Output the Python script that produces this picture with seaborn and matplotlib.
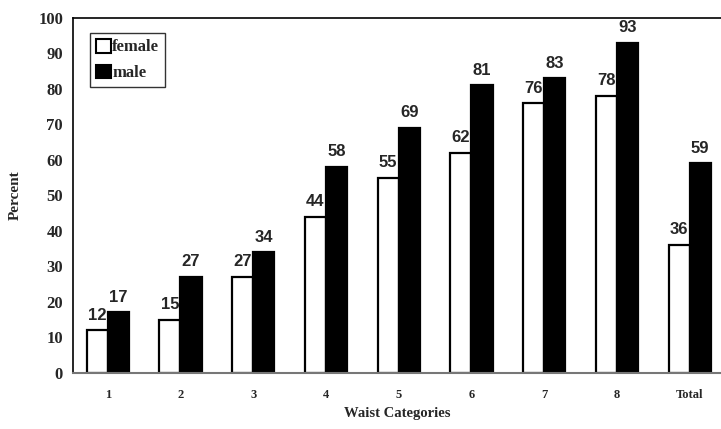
import matplotlib
matplotlib.use("Agg")
import matplotlib.pyplot as plt
import seaborn as sns
import pandas as pd
from matplotlib.patches import Patch

categories = ["1", "2", "3", "4", "5", "6", "7", "8", "Total"]
female = [12, 15, 27, 44, 55, 62, 76, 78, 36]
male = [17, 27, 34, 58, 69, 81, 83, 93, 59]
series = ["female", "male"]
yticks = [0, 10, 20, 30, 40, 50, 60, 70, 80, 90, 100]

df = pd.DataFrame({
    "cat": categories * 2,
    "val": female + male,
    "sex": ["female"] * len(categories) + ["male"] * len(categories),
})

sns.set_style("white")
fig = plt.figure(figsize=(7.21, 4.29), dpi=100)
ax = fig.add_axes([0.101, 0.131, 0.899, 0.827])

sns.barplot(data=df, x="cat", y="val", hue="sex", order=categories,
            hue_order=series, palette=["white", "black"], edgecolor="black",
            linewidth=1.6, width=0.58, ax=ax, legend=False, errorbar=None,
            saturation=1)

for cont in ax.containers:
    ax.bar_label(cont, fmt="%d", padding=5.5, fontsize=12, fontweight="bold",
                 family="Liberation Sans")

ax.set_ylim(0, 100)
ax.set_xlim(-0.48, 8.43)
ax.set_yticks(yticks)
ax.set_yticklabels([str(v) for v in yticks], family="Liberation Serif",
                   fontweight="bold", fontsize=12)
ax.set_xticks(range(len(categories)))
ax.set_xticklabels(categories, family="Liberation Serif", fontweight="bold",
                   fontsize=9)
ax.tick_params(axis="y", length=0, pad=7)
ax.tick_params(axis="x", length=0, pad=12)

ax.set_xlabel("Waist Categories", family="Liberation Serif", fontweight="bold",
              fontsize=10.5, labelpad=4)
ax.set_ylabel("Percent", family="Liberation Serif", fontweight="bold",
              fontsize=11, labelpad=12)

for s in ["left", "top"]:
    ax.spines[s].set_visible(True)
    ax.spines[s].set_color("black")
    ax.spines[s].set_linewidth(1.2)
ax.spines["right"].set_visible(False)
ax.spines["bottom"].set_color("#777777")
ax.spines["bottom"].set_linewidth(1.5)

handles = [Patch(facecolor="white", edgecolor="black", linewidth=1.5),
           Patch(facecolor="black", edgecolor="black", linewidth=1.5)]
leg = ax.legend(handles, series, loc="upper left", bbox_to_anchor=(0.026, 0.958),
                borderaxespad=0, frameon=True, fancybox=False,
                handlelength=0.9, handleheight=0.9,
                handletextpad=0.1, borderpad=0.35, labelspacing=0.55,
                prop={"family": "Liberation Serif", "weight": "bold", "size": 12})
leg.get_frame().set_edgecolor("black")
leg.get_frame().set_linewidth(1.0)

fig.savefig("out.png", dpi=100)
